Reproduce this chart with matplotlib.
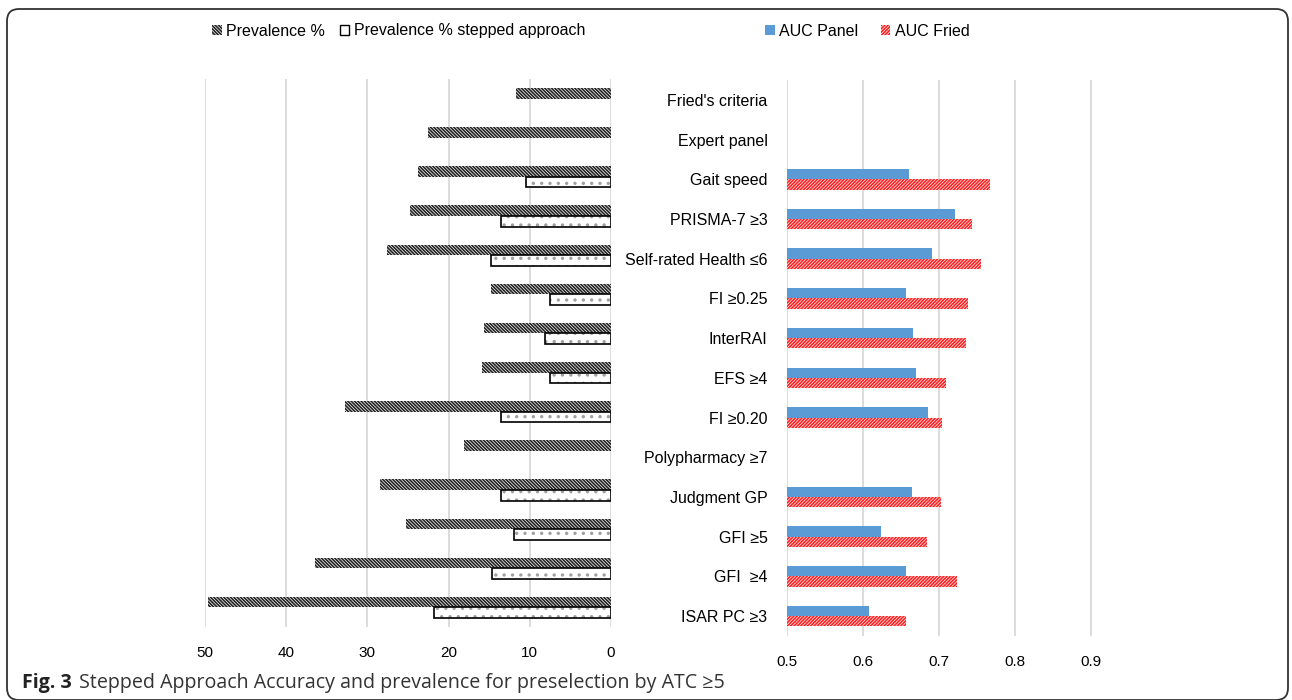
import matplotlib
matplotlib.use("Agg")
import matplotlib.pyplot as plt
from matplotlib.patches import Patch, FancyBboxPatch
from matplotlib.transforms import IdentityTransform
import numpy as np

# data
categories = ["Fried's criteria", "Expert panel", "Gait speed", "PRISMA-7 \u22653",
              "Self-rated Health \u22646", "FI \u22650.25", "InterRAI", "EFS \u22654",
              "FI \u22650.20", "Polypharmacy \u22657", "Judgment GP", "GFI \u22655",
              "GFI  \u22654", "ISAR PC \u22653"]
prevalence = [11.7, 22.5, 23.8, 24.8, 27.6, 14.8, 15.6, 15.9, 32.8, 18.1, 28.5, 25.2, 36.4, 49.6]
prevalence_stepped = [np.nan, np.nan, 10.5, 13.6, 14.8, 7.5, 8.1, 7.5, 13.6, np.nan, 13.6, 11.9, 14.7, 21.8]
auc_panel = [np.nan, np.nan, 0.660, 0.721, 0.691, 0.657, 0.666, 0.670, 0.686, np.nan, 0.664, 0.624, 0.657, 0.608]
auc_fried = [np.nan, np.nan, 0.767, 0.743, 0.755, 0.738, 0.736, 0.709, 0.704, np.nan, 0.703, 0.684, 0.724, 0.656]
left_ticks = [0, 10, 20, 30, 40, 50]
right_ticks = [0.5, 0.6, 0.7, 0.8, 0.9]

plt.rcParams['font.family'] = ['Liberation Sans', 'DejaVu Sans']
plt.rcParams['hatch.linewidth'] = 1.2

W, H = 1292, 700
fig = plt.figure(figsize=(W / 100, H / 100), dpi=100)


def box(l, t, r, b):
    return [l / W, 1 - b / H, (r - l) / W, (b - t) / H]


grid_col = '#d9d9d9'
y = np.arange(len(categories))
bh = 0.27
prev_hatch = '\\' * 10
fried_hatch = '/' * 10
prev_col = '#222222'
fried_col = '#ff1f1f'

# left panel: prevalence
axl = fig.add_axes(box(205, 79, 611, 627))
axl.barh(y - bh / 2, prevalence, height=bh, color='white', edgecolor=prev_col,
         hatch=prev_hatch, linewidth=0)
axl.barh(y + bh / 2, prevalence_stepped, height=bh, color='white', edgecolor='#a0a0a0',
         hatch='..', linewidth=0)
axl.barh(y + bh / 2, prevalence_stepped, height=bh, fill=False, edgecolor='black',
         linewidth=1.2)
axl.set_xlim(50, 0)
axl.set_ylim(len(categories) - 0.5, -0.5)
axl.set_xticks(left_ticks)
axl.set_yticks([])
axl.grid(axis='x', color=grid_col, linewidth=1.3)
axl.set_axisbelow(True)
for s in axl.spines.values():
    s.set_visible(False)
axl.tick_params(axis='x', length=0, pad=14, labelsize=11)

# right panel: AUC
axr = fig.add_axes(box(787, 80, 1129, 636))
bh2 = 0.26
axr.barh(y - bh2 / 2, auc_panel, height=bh2, color='#5b9bd5', linewidth=0)
axr.barh(y + bh2 / 2, auc_fried, height=bh2, color='white', edgecolor=fried_col,
         hatch=fried_hatch, linewidth=0)
axr.set_xlim(0.5, 0.95)
axr.set_ylim(len(categories) - 0.5, -0.5)
axr.set_xticks(right_ticks)
axr.set_xticklabels([f'{t:g}' for t in right_ticks])
axr.set_yticks(y)
axr.set_yticklabels(categories, fontsize=11.5)
axr.grid(axis='x', color=grid_col, linewidth=1.3)
axr.set_axisbelow(True)
for s in axr.spines.values():
    s.set_visible(False)
axr.tick_params(axis='x', length=0, pad=14, labelsize=11)
axr.tick_params(axis='y', length=0, pad=14)

# legends
h_left = [Patch(facecolor='white', edgecolor=prev_col, hatch=prev_hatch, linewidth=0,
                label='Prevalence %'),
          Patch(facecolor='white', edgecolor='black', linewidth=1.0,
                label='Prevalence % stepped approach')]
fig.legend(handles=h_left, loc='center left', bbox_to_anchor=(212 / W, 1 - 31 / H),
           ncol=2, frameon=False, fontsize=11.5, handlelength=0.6, handleheight=0.6,
           handletextpad=0.3, columnspacing=0.9, borderaxespad=0, borderpad=0)
h_right = [Patch(facecolor='#5b9bd5', linewidth=0, label='AUC Panel'),
           Patch(facecolor='white', edgecolor=fried_col, hatch=fried_hatch, linewidth=0,
                 label='AUC Fried')]
fig.legend(handles=h_right, loc='center left', bbox_to_anchor=(765 / W, 1 - 31 / H),
           ncol=2, frameon=False, fontsize=11.5, handlelength=0.6, handleheight=0.6,
           handletextpad=0.3, columnspacing=1.4, borderaxespad=0, borderpad=0)

# rounded frame
frame = FancyBboxPatch((7, 0), 1281, H - 9, boxstyle='round,pad=0,rounding_size=12',
                       transform=IdentityTransform(), facecolor='none',
                       edgecolor='#333333', linewidth=1.3)
fig.patches.append(frame)

# caption
cap1 = fig.text(22 / W, 1 - 683 / H, 'Fig. 3', fontsize=14.1, fontweight='bold',
                family='Open Sans', va='center', color='#222222')
fig.canvas.draw()
ext = cap1.get_window_extent()
fig.text((ext.x1 + 7) / W, 1 - 683 / H,
         'Stepped Approach Accuracy and prevalence for preselection by ATC \u22655',
         fontsize=14.1, family=['Open Sans', 'DejaVu Sans'], va='center', color='#333333')

fig.savefig('out.png', dpi=100)
